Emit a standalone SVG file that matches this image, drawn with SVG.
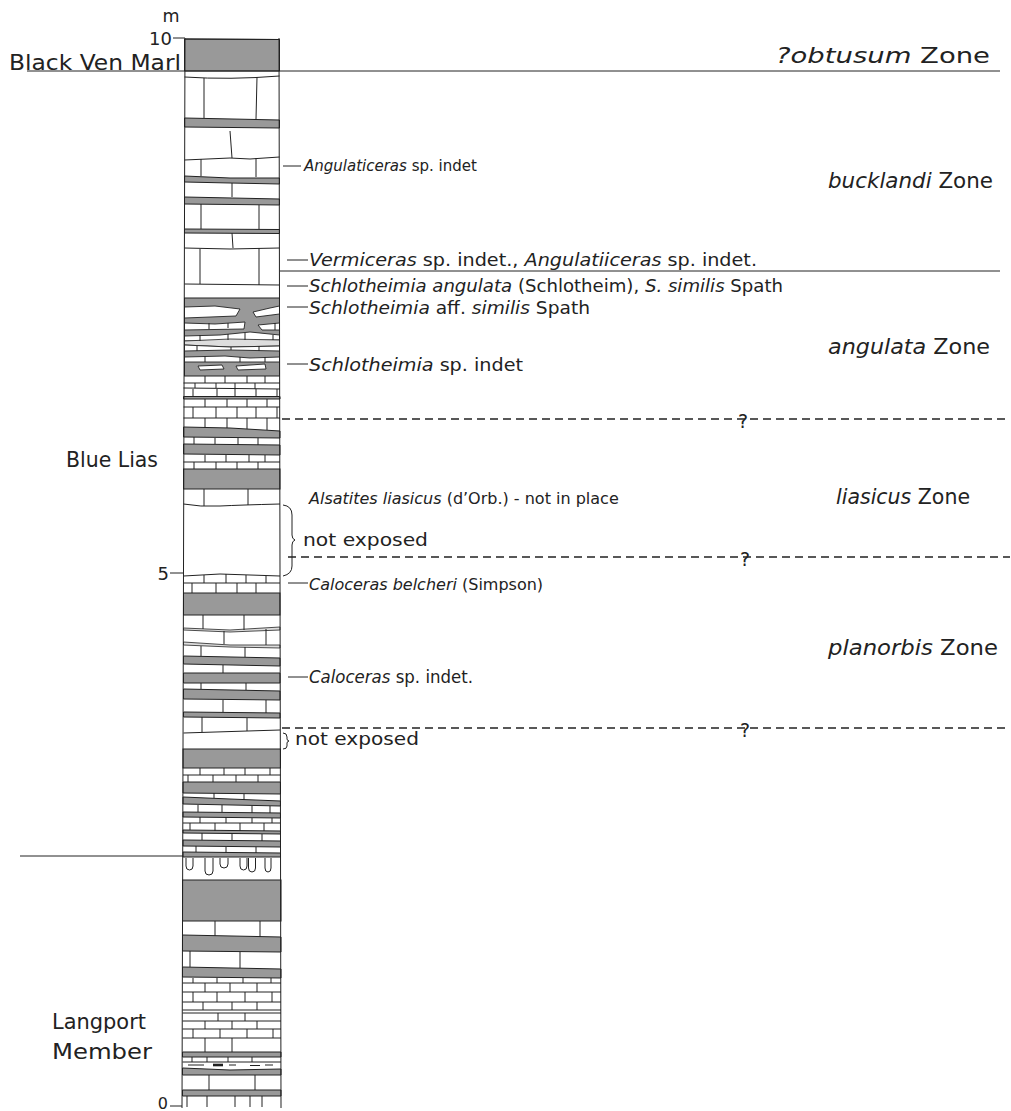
<svg xmlns="http://www.w3.org/2000/svg" width="1011" height="1111" viewBox="0 0 1011 1111">
<style>
.d{fill:#999;stroke:#222;stroke-width:1}
.lg{fill:#ddd;stroke:#222;stroke-width:0.8}
.wt{fill:#fff;stroke:#222;stroke-width:0.9}
.w{fill:none;stroke:#222;stroke-width:1}
.ln{fill:none;stroke:#222;stroke-width:1}
.dash{fill:none;stroke:#222;stroke-width:1.6;stroke-dasharray:8 5}
text{font-family:"DejaVu Sans","Liberation Sans",sans-serif;fill:#222}
.f{font-size:17.5px}
.f2{font-size:16px}
.f3{font-size:15px}
.z{font-size:20.5px}
.s{font-size:18px}
.it{font-style:italic}
.q{font-size:19px}
</style>
<rect width="1011" height="1111" fill="#fff"/>
<g id="column">
<!-- dark beds -->
<polygon class="d" points="184.5,39 279.5,39.5 279.5,71 184.5,71"/>
<polygon class="d" points="184.5,118 279.5,120 279.5,128 184.5,127"/>
<polygon class="d" points="184.5,176 230,178 279.5,178 279.5,184 230,183 184.5,182"/>
<polygon class="d" points="184.5,197 279.5,199 279.5,205 184.5,204"/>
<polygon class="d" points="184.5,229 279.5,229.5 279.5,233.5 184.5,233"/>
<rect class="d" x="184.5" y="298" width="95" height="78"/>
<polygon class="wt" points="184.5,307 215,306 240,309 236,316 184.5,318"/>
<polygon class="wt" points="253,312 270,308 279.5,306 279.5,314 256,317"/>
<polygon class="wt" points="184.5,323 215,324 245,322 244,329 184.5,330"/>
<polygon class="wt" points="258,325 279.5,323 279.5,330 262,330"/>
<polygon class="wt" points="184.5,336 220,335 250,332 279.5,335 279.5,340 184.5,341"/>
<polygon class="lg" points="184.5,341 230,339 279.5,340 279.5,346 230,347 184.5,345"/>
<polygon class="wt" points="184.5,345 230,347 279.5,346 279.5,351 230,350 184.5,351"/>
<polygon class="wt" points="184.5,357 225,356 250,358 279.5,357 279.5,362 184.5,362"/>
<polygon class="wt" points="198,366 222,365 224,369 200,370"/>
<polygon class="wt" points="236,366 265,364 266,369 238,370"/>
<polygon class="d" points="183.5,396.5 280,396.5 280,399 183.5,399"/>
<polygon class="d" points="183.5,427 230,428 280,431 280,438 183.5,437"/>
<polygon class="d" points="183.5,444 280,445 280,455 183.5,454"/>
<rect class="d" x="183.5" y="469" width="96.5" height="20"/>
<rect class="d" x="183.5" y="593" width="96.5" height="22"/>
<polygon class="lg" points="183.5,628 230,630 280,627 280,630 230,632 183.5,630"/>
<polygon class="lg" points="183.5,642 230,645 280,645 280,648 230,647 183.5,645"/>
<polygon class="d" points="183.5,656 280,658 280,666 183.5,664"/>
<polygon class="d" points="183.5,673 280,673 280,683 183.5,683"/>
<polygon class="d" points="183.5,689 280,691 280,700 183.5,699"/>
<polygon class="d" points="183.5,712 280,713 280,718 183.5,717"/>
<rect class="d" x="183" y="749" width="97.5" height="19"/>
<polygon class="d" points="183,782 280.5,782 280.5,794 183,793"/>
<polygon class="d" points="183,797 230,799 280.5,801 280.5,806 183,804"/>
<polygon class="d" points="183,812 280.5,813 280.5,818 183,817"/>
<polygon class="d" points="183,830 280.5,831 280.5,834 183,833"/>
<polygon class="d" points="183,840 280.5,841 280.5,847 183,846"/>
<polygon class="d" points="183,852 280.5,853 280.5,857 183,857"/>
<rect class="d" x="182.5" y="880" width="98.5" height="41"/>
<polygon class="d" points="182.5,935 281,937 281,952 182.5,951"/>
<polygon class="d" points="182.5,967 281,969 281,978 182.5,977"/>
<polygon class="d" points="182.5,1052 281,1052 281,1057 182.5,1057"/>
<polygon class="d" points="182.5,1068 230,1070 281,1069 281,1075 182.5,1075"/>
<polygon class="d" points="182.5,1090 281,1090 281,1096 182.5,1096"/>
<!-- bed boundaries -->
<path class="ln" d="M184.5,77 Q230,80 279.5,76 M184.5,160 L230,158 L250,159 L279.5,157 M184.5,248 L230,249 L279.5,248 M184.5,284 L279.5,285 M183.5,383 L280,383 M183.5,388 L280,389 M183.5,407 L280,407 M183.5,418 L280,418 M183.5,462 L280,462 M183.5,504 Q200,507 220,506 T280,504 M183.5,576 L220,574 L250,575 L280,576 M183.5,583 L280,583 M183.5,733 L280,730 M183,775 L280.5,775 M183,823 L280.5,823 M182.5,983 L281,983 M182.5,992 L281,992 M182.5,1002 L281,1002 M182.5,1010 L281,1010 M182.5,1013 L281,1013 M182.5,1021 L281,1021 M182.5,1029 L281,1029 M182.5,1038 L281,1038 M182.5,1062 L281,1062"/>
<!-- joints -->
<path class="w" d="M204,78 V118 M257,77 L256,119 M230,131 L232,158 M201,159 V176 M256,158 V177 M232,183 V197 M201,204 V229 M259,205 V229 M232,233 L233,248 M200,249 V284 M259,248 V285
M209,323 V329 M228,323 V328 M275,323 V330 M200,335 V341 M228,334 V340 M245,333 V340 M273,335 V340 M197,346 V351 M231,347 V350 M259,346 V351 M205,356 V362 M240,357 V362 M265,357 V362
M205,376 V383 M225,376 V383 M247,376 V383 M265,376 V383 M195,383 V388 M216,383 V388 M235,383 V389 M255,383 V389
M193,389 V396 M217,389 V396 M235,389 V396 M256,389 V396 M277,389 V396
M205,399 V407 M227,399 V407 M247,399 V407 M267,399 V407
M193,407 V418 M216,407 V418 M237,407 V418 M256,407 V418 M277,407 V418
M205,418 V428 M227,418 V428 M247,418 V429 M267,418 V430
M194,437 V444 M215,438 V444 M238,438 V445 M258,438 V445
M205,455 V462 M226,455 V462 M249,455 V462 M265,455 V462
M194,462 V469 M216,462 V469 M237,462 V469 M258,462 V469
M204,489 V506 M248,489 V505
M204,575 V583 M226,574 V583 M246,575 V583 M266,576 V583
M192,583 V593 M216,583 V593 M237,583 V593 M256,583 V593
M203,615 V629 M244,615 V630 M224,631 V644 M266,629 V645 M201,646 V656 M245,647 V657
M223,665 V673 M201,683 V689 M246,683 V690 M223,700 V712 M266,700 V713 M202,717 V732 M247,718 V731
M200,768 V775 M224,768 V775 M245,768 V775 M270,768 V775
M188,775 V782 M213,775 V782 M236,775 V782 M258,775 V782
M214,793 V798 M244,794 V800 M198,805 V812 M222,805 V812 M252,806 V813 M270,806 V813
M200,817 V823 M226,817 V823 M252,818 V823 M272,818 V823
M190,823 V830 M215,823 V831 M240,823 V831 M264,823 V831
M202,833 V840 M232,834 V841 M262,834 V841 M196,846 V852 M226,847 V853 M256,847 V853
M215,921 V936 M260,921 V937 M190,951 V967 M240,952 V968
M193,978 V983 M217,978 V983 M243,978 V983 M271,978 V983
M205,983 V992 M230,983 V992 M257,983 V992
M193,992 V1002 M217,992 V1002 M245,992 V1002 M272,992 V1002
M203,1002 V1010 M232,1002 V1010 M257,1002 V1010
M218,1013 V1021 M245,1013 V1021
M205,1021 V1029 M232,1021 V1029 M257,1021 V1029
M193,1029 V1038 M220,1029 V1038 M247,1029 V1038 M273,1029 V1038
M205,1038 V1052 M232,1038 V1052
M192,1057 V1062 M207,1057 V1062 M228,1057 V1062 M252,1057 V1062
M209,1075 V1090 M255,1075 V1090
M187,1096 V1107 M207,1096 V1107 M235,1096 V1107 M250,1096 V1107 M262,1096 V1107"/>
<!-- lenses -->
<path class="w" d="M188,1065 H204 M229,1065 H236 M250,1065.5 H260 M265,1065 H273"/>
<path fill="none" stroke="#222" stroke-width="2.6" d="M213,1065 H223"/>
<!-- burrows -->
<path class="w" d="M186,858 V866 Q186,870 189.5,870 Q193,870 193,866 V858 M205,858 V871 Q205,875 209,875 Q213,875 213,871 V858 M220,858 V864 Q220,868 224,868 Q228,868 228,864 V858 M240,858 V866 Q240,870 243.5,870 Q247,870 247,866 V858 M248.5,858 V868 Q248.5,872 252,872 Q255.5,872 255.5,868 V858 M265,858 V868 Q265,872 268,872 Q271,872 271,868 V858"/>
<!-- column edges -->
<path class="ln" d="M184.5,39 L279.5,39.5 M185,38 L182,1108 M279,38 L281,1108"/>
</g>
<g id="connectors">
<path class="ln" d="M27,71 H1000 M280,271 H1000 M20,856 H183"/>
<path class="dash" d="M282,419 H1005 M288,557 H1010 M282,728 H1010"/>
<path class="ln" d="M173,38 H185 M170,573 H183 M170,1106 H182"/>
<path class="ln" d="M283,166 H301 M287,260 H308 M287,286 H308 M287,307 H308 M287,364 H308 M288,583 H308 M288,677 H308"/>
<path class="ln" d="M283,505 Q292,506 292,515 L292,535 Q292,539 295,540 Q292,541 292,545 L292,566 Q292,574 283,576"/>
<path class="ln" d="M283,733 Q287,733 287,737 L287,739 Q287,740.5 289,741 Q287,741.5 287,743 L287,746 Q287,749 283,749"/>
</g>
<g id="scale">
<text class="f" x="171" y="22" text-anchor="middle">m</text>
<text class="s" x="172" y="45" text-anchor="end">10</text>
<text class="s" x="169" y="580" text-anchor="end">5</text>
<text class="f2" x="168" y="1109" text-anchor="end">0</text>
</g>
<g id="units">
<text class="z" x="9" y="70" textLength="172" lengthAdjust="spacingAndGlyphs">Black Ven Marl</text>
<text class="z" x="66" y="467" textLength="92" lengthAdjust="spacingAndGlyphs">Blue Lias</text>
<text class="z" x="52" y="1029" textLength="94" lengthAdjust="spacingAndGlyphs">Langport</text>
<text class="z" x="52" y="1059" textLength="100" lengthAdjust="spacingAndGlyphs">Member</text>
</g>
<g id="zones">
<text class="z" x="776" y="63" textLength="214" lengthAdjust="spacingAndGlyphs"><tspan class="it">?obtusum</tspan> Zone</text>
<text class="z" x="828" y="188" textLength="165" lengthAdjust="spacingAndGlyphs"><tspan class="it">bucklandi</tspan>  Zone</text>
<text class="z" x="828" y="354" textLength="162" lengthAdjust="spacingAndGlyphs"><tspan class="it">angulata</tspan> Zone</text>
<text class="z" x="836" y="504" textLength="134" lengthAdjust="spacingAndGlyphs"><tspan class="it">liasicus</tspan> Zone</text>
<text class="z" x="828" y="655" textLength="170" lengthAdjust="spacingAndGlyphs"><tspan class="it">planorbis</tspan> Zone</text>
<text class="q" x="743" y="428" text-anchor="middle">?</text>
<text class="q" x="745" y="566" text-anchor="middle">?</text>
<text class="q" x="745" y="737" text-anchor="middle">?</text>
</g>
<g id="fossils">
<text class="f3" x="304" y="171"><tspan class="it">Angulaticeras</tspan> sp. indet</text>
<text class="f" x="309" y="266" textLength="448" lengthAdjust="spacingAndGlyphs"><tspan class="it">Vermiceras</tspan> sp. indet., <tspan class="it">Angulatiiceras</tspan> sp. indet.</text>
<text class="f" x="309" y="292" textLength="474" lengthAdjust="spacingAndGlyphs"><tspan class="it">Schlotheimia angulata</tspan> (Schlotheim), <tspan class="it">S. similis</tspan> Spath</text>
<text class="f" x="309" y="314" textLength="281" lengthAdjust="spacingAndGlyphs"><tspan class="it">Schlotheimia</tspan> aff. <tspan class="it">similis</tspan> Spath</text>
<text class="f" x="309" y="371" textLength="214" lengthAdjust="spacingAndGlyphs"><tspan class="it">Schlotheimia</tspan> sp. indet</text>
<text class="f2" x="309" y="504"><tspan class="it">Alsatites liasicus</tspan> (d’Orb.) - not in place</text>
<text class="f" x="303" y="546" textLength="125" lengthAdjust="spacingAndGlyphs">not  exposed</text>
<text class="f2" x="309" y="590"><tspan class="it">Caloceras belcheri</tspan> (Simpson)</text>
<text class="f" x="309" y="683" textLength="164" lengthAdjust="spacingAndGlyphs"><tspan class="it">Caloceras</tspan> sp. indet.</text>
<text class="f" x="295" y="745" textLength="124" lengthAdjust="spacingAndGlyphs">not  exposed</text>
</g>
</svg>
